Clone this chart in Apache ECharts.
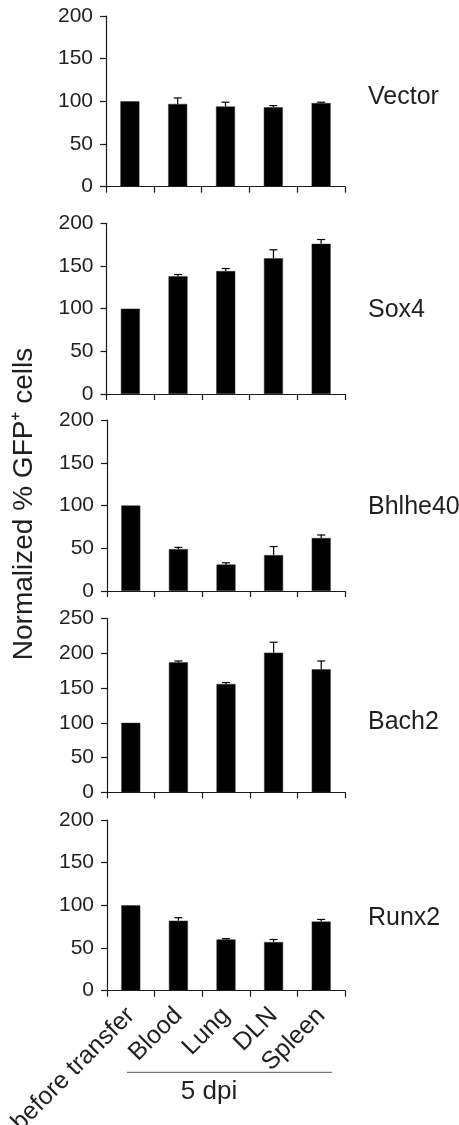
<!DOCTYPE html>
<html>
<head>
<meta charset="utf-8">
<script src="https://cdn.jsdelivr.net/npm/echarts@6/dist/echarts.min.js"></script>
<style>
html,body{margin:0;padding:0;background:#fff;}
#chart{width:459px;height:1125px;}
</style>
</head>
<body>
<div id="chart"></div>
<script>
// ---- data ----
const categories = ['before transfer', 'Blood', 'Lung', 'DLN', 'Spleen'];
const panelNames = ['Vector', 'Sox4', 'Bhlhe40', 'Bach2', 'Runx2'];
const vectorMean  = [100, 97, 94, 93, 98];
const vectorErr   = [0, 7, 5, 2, 1];
const sox4Mean    = [100, 138, 144, 159, 176];
const sox4Err     = [0, 2, 3, 10, 5];
const bhlhe40Mean = [100, 49, 31, 42, 62];
const bhlhe40Err  = [0, 2, 2, 10, 3.5];
const bach2Mean   = [100, 187, 156, 201, 177];
const bach2Err    = [0, 2, 2, 15, 12];
const runx2Mean   = [100, 82, 60, 57, 81];
const runx2Err    = [0, 3.5, 1, 3, 2.5];
const yMaxes      = [200, 200, 200, 250, 200];
const yInterval   = 50;
const yTitle      = 'Normalized % GFP\u207A cells';
const groupLabel  = '5 dpi';

const means = [vectorMean, sox4Mean, bhlhe40Mean, bach2Mean, runx2Mean];
const errs  = [vectorErr, sox4Err, bhlhe40Err, bach2Err, runx2Err];

// ---- layout ----
const FONT = '"Liberation Sans", Arial, Helvetica, sans-serif';
const TXT = '#231f20';
const grids = [
  {left: 106,   right: 114, top: 16,    height: 170.7, outerBoundsMode: 'none', containLabel: false},
  {left: 106.5, right: 114, top: 223.3, height: 170.7, outerBoundsMode: 'none', containLabel: false},
  {left: 107,   right: 114, top: 420,   height: 171,   outerBoundsMode: 'none', containLabel: false},
  {left: 107,   right: 114, top: 618.6, height: 173.7, outerBoundsMode: 'none', containLabel: false},
  {left: 107,   right: 114, top: 820,   height: 170.7, outerBoundsMode: 'none', containLabel: false}
];
const labelY = [96, 309, 506, 721, 917];

const chart = echarts.init(document.getElementById('chart'), null, {renderer: 'canvas'});

const xAxes = [], yAxes = [], series = [], graphics = [];
for (let i = 0; i < 5; i++) {
  const last = i === 4;
  xAxes.push({
    type: 'category', gridIndex: i, data: categories, boundaryGap: true,
    axisLine: {show: true, lineStyle: {color: '#1a1a1a', width: 1.2}},
    axisTick: {show: true, length: 6, interval: 0, alignWithLabel: false, lineStyle: {color: '#1a1a1a', width: 1.2}},
    axisLabel: {show: last, interval: 0, rotate: 45, margin: 21, fontSize: 25, fontFamily: FONT, color: TXT},
    splitLine: {show: false}
  });
  yAxes.push({
    type: 'value', gridIndex: i, min: 0, max: yMaxes[i], interval: yInterval,
    axisLine: {show: true, lineStyle: {color: '#1a1a1a', width: 1.2}},
    axisTick: {show: true, length: 6, lineStyle: {color: '#1a1a1a', width: 1.2}},
    axisLabel: {show: true, margin: 13, fontSize: 21, fontFamily: FONT, color: TXT},
    splitLine: {show: false}
  });
  series.push({
    type: 'bar', xAxisIndex: i, yAxisIndex: i, data: means[i], barWidth: 19,
    itemStyle: {color: '#000', borderColor: '#333', borderWidth: 0.5},
    silent: true, z: 2
  });
  series.push({
    type: 'custom', xAxisIndex: i, yAxisIndex: i,
    data: means[i].map((m, k) => [k, m, errs[i][k]]),
    encode: {x: 0, y: 1},
    silent: true, z: 3,
    renderItem: function (params, api) {
      const e = api.value(2);
      if (!e) return null;
      const x = api.value(0), m = api.value(1);
      const p0 = api.coord([x, m]);
      const p1 = api.coord([x, m + e]);
      const st = {stroke: '#000', lineWidth: 1.2};
      return {
        type: 'group',
        children: [
          {type: 'line', shape: {x1: p0[0], y1: p0[1], x2: p1[0], y2: p1[1]}, style: st},
          {type: 'line', shape: {x1: p1[0] - 4, y1: p1[1], x2: p1[0] + 4, y2: p1[1]}, style: st}
        ]
      };
    }
  });
  graphics.push({
    type: 'text', left: 368, top: labelY[i] - 11,
    style: {text: panelNames[i], fontSize: 25, fontFamily: FONT, fill: TXT}
  });
}

graphics.push({
  type: 'text', x: 24, y: 504, rotation: Math.PI / 2,
  style: {text: yTitle, fontSize: 28, fontFamily: FONT, fill: TXT, align: 'center', verticalAlign: 'middle'}
});
graphics.push({
  type: 'line', shape: {x1: 127, y1: 1072.3, x2: 332, y2: 1072.3},
  style: {stroke: '#555', lineWidth: 1}
});
graphics.push({
  type: 'text', x: 209, y: 1092,
  style: {text: groupLabel, fontSize: 26, fontFamily: FONT, fill: TXT, align: 'center', verticalAlign: 'middle'}
});

chart.setOption({
  animation: false,
  backgroundColor: '#fff',
  grid: grids,
  xAxis: xAxes,
  yAxis: yAxes,
  series: series,
  graphic: graphics
});
</script>
</body>
</html>
